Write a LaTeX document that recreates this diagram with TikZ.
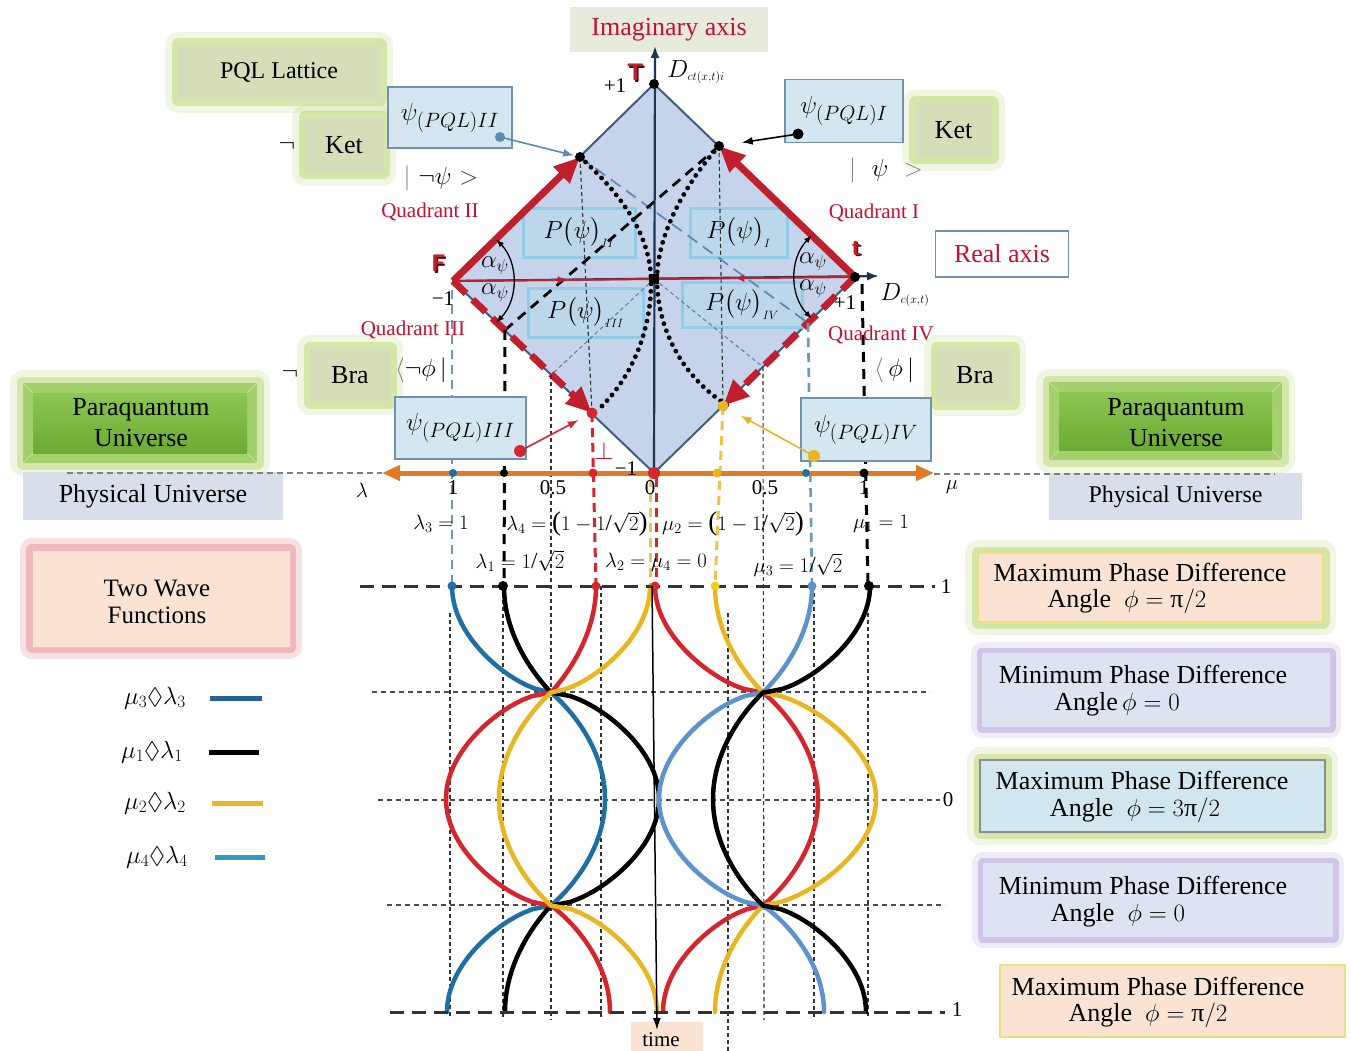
\documentclass[tikz,border=0pt]{standalone}
\usepackage{amsmath,amssymb}
\usepackage{fontspec}
\setmainfont{Liberation Serif}
\usetikzlibrary{arrows.meta,calc}

\definecolor{dfill}{HTML}{C5D4EA}
\definecolor{dedge}{HTML}{3E5E80}
\definecolor{rd}{HTML}{C0202E}
\definecolor{rtext}{HTML}{C8102E}
\definecolor{axdark}{HTML}{1F3550}
\definecolor{orng}{HTML}{E07B28}
\definecolor{bdash}{HTML}{6A9AC2}
\definecolor{pfill}{HTML}{B5D9EA}
\definecolor{pdraw}{HTML}{8CCBE6}
\definecolor{psifill}{HTML}{D4E7F1}
\definecolor{psidraw}{HTML}{7091B0}
\definecolor{glowg}{HTML}{B5D36A}
\definecolor{kfill}{HTML}{D5DDB9}
\definecolor{glowp}{HTML}{B39ED8}
\definecolor{glowr}{HTML}{E89EA4}
\definecolor{lavfill}{HTML}{DDE3F0}
\definecolor{peach}{HTML}{FBE3D4}
\definecolor{ylwb}{HTML}{E9E27A}
\definecolor{ylw}{HTML}{E8B620}
\definecolor{wblueA}{HTML}{1F6FA5}
\definecolor{wblueB}{HTML}{5D93CC}
\definecolor{wred}{HTML}{D4262C}
\definecolor{legA}{HTML}{1E6394}
\definecolor{legD}{HTML}{2E9AC8}
\definecolor{physfill}{HTML}{D9DFEA}
\definecolor{imagfill}{HTML}{E6EBDD}
\definecolor{paraout}{HTML}{A3D06A}
\definecolor{paratop}{HTML}{8CC653}
\definecolor{parabot}{HTML}{6CAB33}
\definecolor{lblue}{HTML}{D2E6EF}

% tall parentheses and slash taken from the text font
\newcommand\bpl{\text{\fontsize{27}{27}\selectfont(}}
\newcommand\bpr{\text{\fontsize{27}{27}\selectfont)}}
\newcommand\bsl{\text{\fontsize{23}{23}\selectfont/}}

% shape of one quarter piece of a wave: blend of a sinusoid and a circular arc
\pgfmathdeclarefunction{wshape}{2}{%
  \begingroup
  \pgfmathsetmacro\wsQ{11342.25/((#2)*(#2))}%
  \pgfmathsetmacro\wsK{(1+\wsQ)/2}%
  \pgfmathsetmacro\wsG{1-\wsK+sqrt(max(0,\wsK*\wsK-(#1)*(#1)*\wsQ))}%
  \pgfmathsetmacro\wsGa{1-\wsK+sqrt(max(0,\wsK*\wsK-\wsQ))}%
  \pgfmathparse{0.35*cos(90*(#1))+0.65*(\wsG-\wsGa)/(1-\wsGa)}%
  \pgfmathsmuggle\pgfmathresult
  \endgroup}

\newcommand\wavecurve[5]{%
  \draw[wave,#1] plot[domain=0:1,samples=30] ({#2+(#3)*wshape(\x,#3)},{586+106.5*\x})
    -- plot[domain=1:3,samples=60] ({#2+(#4)*wshape(\x-2,#4)},{586+106.5*\x})
    -- plot[domain=3:4,samples=30] ({#2+(#5)*wshape(4-\x,#5)},{586+106.5*\x});}

\tikzset{
  txt/.style={font=\fontsize{26}{31}\selectfont, align=center, inner sep=0pt},
  sm/.style={font=\fontsize{21}{23}\selectfont, inner sep=0pt},
  mth/.style={font=\fontsize{22}{24}\selectfont, inner sep=0pt},
  quad/.style={sm, text=rtext},
  glowG/.style={preaction={draw=glowg,line width=26pt,opacity=0.2,line join=round},
                preaction={draw=glowg,line width=13pt,opacity=0.45,line join=round}},
  glowP/.style={preaction={draw=glowp,line width=22pt,opacity=0.2,line join=round},
                preaction={draw=glowp,line width=11pt,opacity=0.5,line join=round}},
  glowR/.style={preaction={draw=glowr,line width=24pt,opacity=0.3,line join=round},
                preaction={draw=glowr,line width=12pt,opacity=0.6,line join=round}},
  kbox/.style={glowG, fill=kfill, inner sep=0pt, font=\fontsize{26}{29}\selectfont},
  psibox/.style={fill=psifill, draw=psidraw, line width=1.5pt, inner sep=0pt, font=\fontsize{28}{30}\selectfont},
  pbox/.style={fill=pfill, fill opacity=0.55, draw=pdraw, draw opacity=0.9, line width=3pt, text opacity=1, inner sep=0pt, font=\fontsize{24}{26}\selectfont},
  tfl/.style={font=\sffamily\bfseries\fontsize{24}{26}\selectfont, text=rd, inner sep=0pt},
  tfls/.style={font=\sffamily\bfseries\fontsize{24}{26}\selectfont, text=black!70!red, inner sep=0pt},
  redarr/.style={draw=rd, line width=7pt, -{Triangle[length=26pt,width=22pt]}},
  redarrd/.style={redarr, dash pattern=on 18pt off 9pt},
  redl/.style={draw=rd, line width=2pt},
  axis/.style={draw=axdark, line width=2.2pt, -{Latex[length=12pt,width=9pt]}},
  angarr/.style={black, line width=1.3pt, {Latex[length=8pt,width=6pt]}-{Latex[length=8pt,width=6pt]}},
  thind/.style={draw=black!80, line width=1.1pt, dash pattern=on 4pt off 3pt},
  bluedash/.style={draw=bdash, line width=2.6pt, dash pattern=on 9pt off 6pt},
  blkdash/.style={draw=black, line width=3pt, dash pattern=on 10pt off 7pt},
  reddash/.style={draw=wred, line width=3pt, dash pattern=on 9pt off 6pt},
  ylwdash/.style={draw=ylw!80!white, line width=3pt, dash pattern=on 9pt off 6pt},
  dotarc/.style={draw=black, line width=4.8pt, dash pattern=on 0pt off 7.5pt, line cap=round},
  conn/.style={line width=1.6pt, -{Latex[length=11pt,width=8pt]}},
  wave/.style={line width=4.5pt, line cap=round},
  hdash/.style={draw=black!80, line width=3pt, dash pattern=on 14pt off 8pt},
  hthin/.style={draw=black!70, line width=1.1pt, dash pattern=on 5pt off 4pt},
  legline/.style={line width=5pt}
}

\begin{document}
\begin{tikzpicture}[x=1pt,y=-1pt]
\useasboundingbox (0,0) rectangle (1351,1051);
\fill[white] (0,0) rectangle (1351,1051);

% ---------- key coordinates
\coordinate (T) at (654,84);
\coordinate (R) at (855,277);
\coordinate (B) at (654,473);
\coordinate (L) at (453,281);
\coordinate (C) at (654,279);
\coordinate (P2) at (580,157);
\coordinate (P1) at (719,146);
\coordinate (P3) at (592,413);
\coordinate (P4) at (723,406);
\coordinate (E505) at (505,330);
\coordinate (E551) at (551,375);
\coordinate (E763) at (763,367);
\coordinate (E808) at (808,323);

% ---------- glow boxes
\node[kbox, minimum width=202pt, minimum height=55pt, font=\fontsize{24}{26}\selectfont] (pql) at (279,72.5) {PQL Lattice};
\node[kbox, minimum width=78pt, minimum height=55pt] (ketL) at (344,145.5) {Ket};
\node[kbox, minimum width=77pt, minimum height=55pt] (ketR) at (953.5,130.5) {Ket};
\node[kbox, minimum width=80pt, minimum height=54pt] (braL) at (350,375) {Bra};
\node[kbox, minimum width=76pt, minimum height=55pt] (braR) at (975,375.5) {Bra};

% Paraquantum boxes
\node[glowG, fill=paraout, minimum width=234pt, minimum height=80pt, inner sep=0pt] (paraL) at (140,423) {};
\node[top color=paratop, bottom color=parabot, minimum width=214pt, minimum height=60pt, inner sep=0pt] (paraLi) at (140,423) {};
\draw[white, opacity=0.35, line width=1pt] (paraL.north west) -- (paraLi.north west) (paraL.north east) -- (paraLi.north east)
  (paraL.south west) -- (paraLi.south west) (paraL.south east) -- (paraLi.south east);
\node[txt] (paraLt) at (141,423) {Paraquantum\\Universe};

\node[glowG, fill=paraout, minimum width=233pt, minimum height=78pt, inner sep=0pt] (paraR) at (1165.5,421) {};
\node[top color=paratop, bottom color=parabot, minimum width=213pt, minimum height=58pt, inner sep=0pt] (paraRi) at (1165.5,421) {};
\draw[white, opacity=0.35, line width=1pt] (paraR.north west) -- (paraRi.north west) (paraR.north east) -- (paraRi.north east)
  (paraR.south west) -- (paraRi.south west) (paraR.south east) -- (paraRi.south east);
\node[txt] (paraRt) at (1176,423) {Paraquantum\\Universe};

% Physical universe
\node[fill=physfill, minimum width=260pt, minimum height=48pt, txt] (physL) at (153,496) {Physical Universe};
\node[fill=physfill, minimum width=253pt, minimum height=47pt, inner sep=0pt, font=\fontsize{24}{26}\selectfont] (physR) at (1175.5,496.5) {Physical Universe};
\draw[draw=gray, line width=1.2pt, dash pattern=on 6pt off 4pt] (67,473) -- (382,473);
\draw[draw=gray, line width=1.2pt, dash pattern=on 6pt off 4pt] (934,474) -- (1275,474);

% Two wave functions
\node[glowR, fill=peach, draw=glowr!70, line width=1pt, minimum width=258pt, minimum height=97pt, inner sep=0pt] (twoW) at (161,598.5) {};
\node[font=\fontsize{25}{27}\selectfont, align=center, inner sep=0pt] (twoWt) at (157,602) {Two Wave\\Functions};

% Axis title boxes
\node[fill=imagfill, minimum width=198pt, minimum height=45pt, txt, text=rtext] (imag) at (669,29.5) {Imaginary axis};
\node[fill=white, draw=psidraw, line width=1.8pt, minimum width=133pt, minimum height=46pt, txt, text=rtext] (realax) at (1002,254) {Real axis};

% Phase-difference boxes
\node[glowG, fill=peach, draw=ylwb, line width=2pt, minimum width=345pt, minimum height=69pt, inner sep=0pt] (mx1) at (1150.5,587.5) {};
\node[txt] (mx1a) at (1140,572) {Maximum Phase Difference};
\node[txt] (mx1b) at (1127,601) {Angle~~$\phi=\text{π}/2$};
\node[glowP, fill=lavfill, minimum width=348pt, minimum height=74pt, inner sep=0pt] (mn1) at (1156,690) {};
\node[txt] (mn1a) at (1143,674) {Minimum Phase Difference};
\node[txt] (mn1b) at (1117,704) {Angle\,$\phi=0$};
\node[glowG, fill=lblue, draw=black!45, line width=1.2pt, minimum width=345pt, minimum height=72pt, inner sep=0pt] (mx2) at (1152.5,796) {};
\node[txt] (mx2a) at (1142,780.5) {Maximum Phase Difference};
\node[txt] (mx2b) at (1135,810) {Angle~~$\phi=3\text{π}/2$};
\node[glowP, fill=lavfill, minimum width=350pt, minimum height=74pt, inner sep=0pt] (mn2) at (1158,900) {};
\node[txt] (mn2a) at (1143,885.5) {Minimum Phase Difference};
\node[txt] (mn2b) at (1118,915) {Angle~~$\phi=0$};
\node[fill=peach, draw=ylwb, line width=2.5pt, minimum width=345pt, minimum height=72pt, inner sep=0pt] (mx3) at (1172.5,1001) {};
\node[txt] (mx3a) at (1158,986) {Maximum Phase Difference};
\node[txt] (mx3b) at (1148,1015) {Angle~~$\phi=\text{π}/2$};

% ---------- diamond
\filldraw[fill=dfill, draw=dedge, line width=2pt, line join=round] (T) -- (R) -- (B) -- (L) -- cycle;

\node[pbox, minimum width=112pt, minimum height=49pt] (pII) at (579,232.5) {$P\big(\psi\big)_{\scriptscriptstyle II}$};
\node[pbox, minimum width=97pt, minimum height=49pt] (pI) at (738.5,232.5) {$P\big(\psi\big)_{\scriptscriptstyle I}$};
\node[pbox, minimum width=115pt, minimum height=49pt] (pIII) at (585.5,312.5) {$P\big(\psi\big)_{\scriptscriptstyle III}$};
\node[pbox, minimum width=120pt, minimum height=45pt] (pIV) at (742,304.5) {$P\big(\psi\big)_{\scriptscriptstyle IV}$};

% inner construction lines
\draw[thind] (P2) -- (P3);
\draw[thind] (P1) -- (P4);
\draw[thind, draw=dedge!80] (C) -- (E551);
\draw[thind, draw=dedge!80] (C) -- (E763);
\draw[draw=bdash!90!black, line width=1.8pt, dash pattern=on 12pt off 7pt] (P2) -- (E808);
\draw[draw=black, line width=2.8pt, dash pattern=on 10pt off 7pt] (E505) -- (P1);
\draw[dotarc] (P2) .. controls (628,200) and (650,240) .. (651,279) .. controls (652,320) and (638,372) .. (598,410);
\draw[dotarc] (P1) .. controls (680,190) and (657,240) .. (657,279) .. controls (657,320) and (675,372) .. (728,406);

% axes
\draw[axis] (B) -- (655,46);
\draw[axis] (L) -- (879,276);
\draw[redl, -{Latex[length=10pt,width=8pt]}] (L) -- ($(L)!0.57!(C)$);
\draw[redl] ($(L)!0.55!(C)$) -- (C);
\draw[redl, -{Latex[length=10pt,width=8pt]}] (R) -- ($(R)!0.6!(C)$);
\draw[redl] ($(R)!0.58!(C)$) -- (C);

% red quadrant arrows
\draw[redarr] (L) -- (P2);
\draw[redarr] (R) -- (P1);
\draw[redarrd] (L) -- (P3);
\draw[redarrd] (R) -- (P4);

% angle arcs
\draw[angarr] ([shift={(44:60)}]L) arc[start angle=44,end angle=-44,radius=60];
\draw[angarr] ([shift={(136:60)}]R) arc[start angle=136,end angle=224,radius=60];
\node[font=\fontsize{26}{28}\selectfont, inner sep=0pt] (aL1) at (495,266) {$\alpha_\psi$};
\node[font=\fontsize{26}{28}\selectfont, inner sep=0pt] (aL2) at (495,293) {$\alpha_\psi$};
\node[font=\fontsize{26}{28}\selectfont, inner sep=0pt] (aR1) at (813,262) {$\alpha_\psi$};
\node[font=\fontsize{26}{28}\selectfont, inner sep=0pt] (aR2) at (813,289) {$\alpha_\psi$};

% ---------- vertical projection lines
\draw[bluedash] (452,290) -- (452,586);
\draw[blkdash] (E505) -- (504,586);
\draw[thind] (E551) -- (551,1020);
\draw[reddash] (P3) -- (596,586);
\draw[ylwdash] (P4) -- (715,586);
\draw[thind] (E763) -- (764,1020);
\draw[bluedash] (E808) -- (812,586);
\draw[blkdash] (862,284) -- (868,586);
\draw[ylwdash] (650,478) -- (650,586);
\draw[reddash] (656,478) -- (656,586);

% orange lambda-mu axis
\draw[orng, line width=5pt, {Triangle[length=18pt,width=15pt]}-{Triangle[length=18pt,width=15pt]}] (382,473) -- (934,473);

% ---------- psi boxes and connectors
\node[psibox, minimum width=124pt, minimum height=61pt] (psiII) at (450,117.5) {$\psi_{(PQL)II}$};
\node[psibox, minimum width=118pt, minimum height=63pt] (psiI) at (844,111) {$\psi_{(PQL)I}$};
\node[psibox, minimum width=131pt, minimum height=62pt] (psiIII) at (460.5,428) {$\psi_{(PQL)III}$};
\node[psibox, minimum width=130pt, minimum height=63pt] (psiIV) at (866,429.5) {$\psi_{(PQL)IV}$};
\coordinate (dII) at (500,137);
\coordinate (dI) at (798,134);
\coordinate (dIII) at (520,451);
\coordinate (dIV) at (814,456);
\draw[conn, draw=bdash!90!black, shorten >=6pt] (dII) -- (P2);
\draw[conn, draw=black, shorten >=23pt] (dI) -- (P1);
\draw[conn, draw=wred, shorten >=15pt] (dIII) -- (P3);
\draw[conn, draw=ylw, shorten >=20pt] (dIV) -- (P4);
\fill[bdash!90!black] (dII) circle[radius=5];
\fill[black] (dI) circle[radius=5.5];
\fill[wred] (dIII) circle[radius=6];
\fill[ylw] (dIV) circle[radius=6];

% ---------- key points
\fill[black] (T) circle[radius=5];
\fill[black] (R) circle[radius=5];
\fill[black] ($(C)+(-5,-5)$) rectangle ($(C)+(5,5)$);
\fill[black] (P2) circle[radius=5];
\fill[black] (P1) circle[radius=5];
\fill[wred] (B) circle[radius=6];
\fill[wred] (P3) circle[radius=5.5];
\fill[ylw] (P4) circle[radius=5.5];

% axis dots
\fill[wblueA] (453,473) circle[radius=4];
\fill[black] (504,473) circle[radius=4];
\fill[wred] (593,473) circle[radius=4.5];
\fill[ylw] (717,473) circle[radius=4.5];
\fill[wblueA] (806,473) circle[radius=4];
\fill[black] (864,473) circle[radius=4.5];

% ---------- diamond labels
\node[tfls] (Ts) at (637,74) {T};
\node[tfl] (Tl) at (635.5,72.5) {T};
\node[tfls] (Fs) at (440,265) {F};
\node[tfl] (Fl) at (438.5,263.5) {F};
\node[tfls] (ts) at (858,250) {t};
\node[tfl] (tl) at (856.5,248.5) {t};
\node[sm] (p1T) at (615,86) {+1};
\node[font=\fontsize{24}{26}\selectfont, inner sep=0pt] (Dim) at (696,72) {$D_{\scriptscriptstyle ct(x,t)i}$};
\node[sm] (m1L) at (443,299) {−1};
\node[sm] (p1R) at (845,303) {+1};
\node[font=\fontsize{24}{26}\selectfont, inner sep=0pt] (Dre) at (905,295) {$D_{\scriptscriptstyle c(x,t)}$};
\node[sm] (m1B) at (626,469) {−1};
\node[font=\fontsize{28}{30}\selectfont, text=rtext, inner sep=0pt] (perp) at (604,451) {$\perp$};

\node[quad] (q2) at (430,212) {Quadrant II};
\node[quad] (q1) at (874,213) {Quadrant I};
\node[quad] (q3) at (413,330) {Quadrant III};
\node[quad] (q4) at (881,335) {Quadrant IV};

\node[font=\fontsize{30}{32}\selectfont, inner sep=0pt] (negK) at (287,146) {$\neg$};
\node[font=\fontsize{30}{32}\selectfont, inner sep=0pt] (negB) at (290,374) {$\neg$};
\node[font=\fontsize{28}{30}\selectfont, inner sep=0pt] (ketnl) at (441,178) {{\color{gray}$|$}\;$\neg\psi$\;{\color{darkgray}$>$}};
\node[font=\fontsize{28}{30}\selectfont, inner sep=0pt] (ketl) at (886,170) {{\color{gray}$|$}\;\;$\psi$\;\;{\color{gray}$>$}};
\node[font=\fontsize{28}{30}\selectfont, inner sep=0pt] (bral) at (421,370) {{\color{gray}$\langle$}$\neg\phi\,|$};
\node[font=\fontsize{28}{30}\selectfont, inner sep=0pt] (brar) at (894,370) {{\color{gray}$\langle$}\,$\phi\,|$};

% ---------- lambda / mu tick labels
\node[font=\fontsize{22}{24}\selectfont, inner sep=0pt] (lam) at (362,490) {$\lambda$};
\node[font=\fontsize{22}{24}\selectfont, inner sep=0pt] (mu) at (952,487) {$\mu$};
\node[sm] (t1) at (453,488) {1};
\node[sm] (t2) at (553,488) {0.5};
\node[sm] (t3) at (650,488) {0};
\node[sm] (t4) at (765,488) {0.5};
\node[sm] (t5) at (864,488) {1};
\node[mth] (f1) at (441,524) {$\lambda_3=1$};
\node[mth] (f2) at (577,524) {$\lambda_4=\bpl1-1\bsl\sqrt{2}\bpr$};
\node[mth] (f3) at (733,524) {$\mu_2=\bpl1-1\bsl\sqrt{2}\bpr$};
\node[mth] (f4) at (881,524) {$\mu_1=1$};
\node[mth] (f5) at (520,561) {$\lambda_1=1\bsl\sqrt{2}$};
\node[mth] (f6) at (656,562) {$\lambda_2=\mu_4=0$};
\node[mth] (f7) at (798,565) {$\mu_3=1\bsl\sqrt{2}$};

% ---------- wave area grid
\draw[hthin] (372,692) -- (930,692);
\draw[hthin] (378,800) -- (940,800);
\draw[hthin] (387,905) -- (945,905);
\draw[thind] (450,613) -- (450,1017);
\draw[thind] (503,586) -- (503,1020);
\draw[thind] (601,586) -- (601,1017);
\draw[thind] (728,613) -- (728,1051);
\draw[thind] (814,586) -- (814,1017);
\draw[thind] (868,613) -- (868,1017);

% waves (left group centre 551, right group centre 763)
\wavecurve{wblueA}{551}{-99}{54}{-104}
\wavecurve{black}{551}{-47}{108}{-46}
\wavecurve{wred}{551}{45}{-105}{59}
\wavecurve{ylw}{551}{99}{-52}{106}
\wavecurve{wred}{763}{-108}{55}{-100}
\wavecurve{ylw}{763}{-48}{113}{-48}
\wavecurve{wblueB}{763}{49}{-104}{61}
\wavecurve{black}{763}{107}{-50}{103}

\draw[hdash] (360,586) -- (935,586);
\draw[hdash] (390,1012) -- (945,1012);
\node[sm] (w1) at (946,587) {1};
\node[sm] (w0) at (948,800) {0};
\node[sm] (w2) at (957,1010) {1};

% top-of-wave dots
\fill[wblueA] (452,586) circle[radius=4.5];
\fill[black] (503,586) circle[radius=5];
\fill[wred] (596,586) circle[radius=4.5];
\fill[wred] (655,586) circle[radius=4.5];
\fill[ylw!70!yellow] (715,586) circle[radius=4.5];
\fill[wblueB] (812,586) circle[radius=4.5];
\fill[black] (869,586) circle[radius=5];

% time axis
\node[fill=peach, minimum width=72pt, minimum height=29pt, inner sep=0pt] (timebox) at (667,1036.5) {};
\node[sm] (timet) at (661,1040) {time};
\coordinate (ts0) at (652,586);
\coordinate (ts1) at (657,1030);
\draw[line width=1.5pt, -{Latex[length=12pt,width=8pt]}] (ts0) -- (ts1);

% ---------- legend
\node[font=\fontsize{24}{26}\selectfont, inner sep=0pt] (lg1) at (155,698) {$\mu_3\lozenge\lambda_3$};
\node[font=\fontsize{24}{26}\selectfont, inner sep=0pt] (lg2) at (152,752) {$\mu_1\lozenge\lambda_1$};
\node[font=\fontsize{24}{26}\selectfont, inner sep=0pt] (lg3) at (155,803) {$\mu_2\lozenge\lambda_2$};
\node[font=\fontsize{24}{26}\selectfont, inner sep=0pt] (lg4) at (157,857) {$\mu_4\lozenge\lambda_4$};
\draw[legline, legA] (210,698) -- (262,698);
\draw[legline, black] (209,752) -- (259,752);
\draw[legline, ylw] (212,803) -- (263,803);
\draw[legline, legD] (215,857) -- (265,857);
\end{tikzpicture}
\end{document}
